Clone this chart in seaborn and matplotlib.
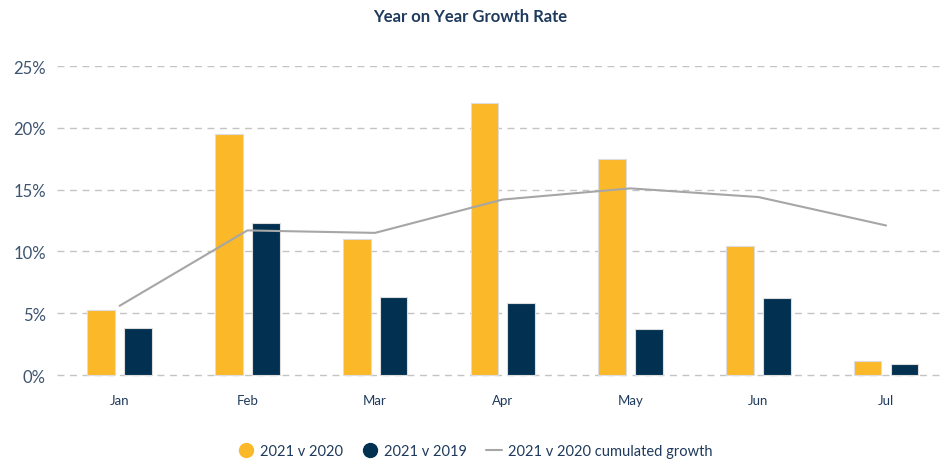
import matplotlib
matplotlib.use("Agg")
import matplotlib.pyplot as plt
from matplotlib.lines import Line2D
import seaborn as sns
import numpy as np
import pandas as pd

months = ["Jan", "Feb", "Mar", "Apr", "May", "Jun", "Jul"]
v2020 = [5.3, 19.5, 11.0, 22.0, 17.5, 10.4, 1.1]
v2019 = [3.8, 12.3, 6.3, 5.8, 3.7, 6.2, 0.9]
cumulated = [5.6, 11.7, 11.5, 14.2, 15.1, 14.4, 12.1]
series_names = ["2021 v 2020", "2021 v 2019", "2021 v 2020 cumulated growth"]
yticks = [0, 5, 10, 15, 20, 25]

ORANGE = "#FBB829"
NAVY = "#023050"
GRAY = "#a6a6a6"
TEXT = "#1f3a5c"

sns.set_style("white")
plt.rcParams["font.family"] = ["Lato", "DejaVu Sans"]

df = pd.DataFrame({
    "month": months * 2,
    "value": v2020 + v2019,
    "series": [series_names[0]] * len(months) + [series_names[1]] * len(months),
})

fig = plt.figure(figsize=(9.41, 4.60), dpi=100)
ax = fig.add_axes([0.0606, 0.178, 0.9394, 0.6763])

sns.barplot(data=df, x="month", y="value", hue="series", order=months,
            hue_order=series_names[:2], palette=[ORANGE, NAVY], saturation=1,
            width=0.576, gap=0.25, edgecolor="#dddddd", linewidth=0.8,
            legend=False, ax=ax, zorder=3)

sns.lineplot(x=np.arange(len(months)), y=cumulated, color=GRAY, linewidth=1.5,
             ax=ax, zorder=4)

ax.set_ylim(-0.17, 25)
ax.set_xlim(-0.49, 6.43)
ax.set_yticks(yticks)
ax.set_yticklabels([f"{t}%" for t in yticks])
ax.set_xlabel("")
ax.set_ylabel("")
for s in ax.spines.values():
    s.set_visible(False)
ax.grid(axis="y", linestyle=(0, (5, 4)), color="#c4c4c4", linewidth=1, zorder=0)
ax.set_axisbelow(True)
ax.tick_params(axis="both", length=0)
ax.tick_params(axis="y", labelsize=12, labelcolor="#3d5470", pad=8)
ax.tick_params(axis="x", labelsize=9.5, labelcolor=TEXT, pad=12)
for lab in ax.get_yticklabels():
    lab.set_clip_on(False)

fig.text(0.5, 0.962, "Year on Year Growth Rate", ha="center", va="center",
         fontsize=12, fontweight="bold", color=TEXT)

handles = [
    Line2D([], [], marker="o", linestyle="none", markersize=10,
           markerfacecolor=ORANGE, markeredgecolor=ORANGE),
    Line2D([], [], marker="o", linestyle="none", markersize=10,
           markerfacecolor=NAVY, markeredgecolor=NAVY),
    Line2D([], [], color=GRAY, linewidth=1.5),
]
fig.legend(handles, series_names, loc="center", bbox_to_anchor=(0.505, 0.017),
           ncol=3, frameon=False, fontsize=10.5, labelcolor=TEXT,
           handlelength=1.1, handletextpad=0.4, columnspacing=1.3)

fig.savefig("out.png", dpi=100)
